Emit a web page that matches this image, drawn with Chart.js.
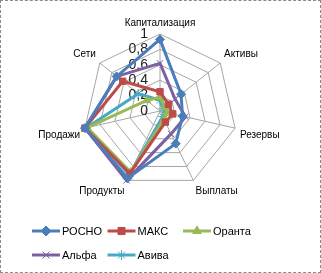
<!DOCTYPE html>
<html>
<head>
<meta charset="utf-8">
<script src="https://cdn.jsdelivr.net/npm/chart.js@4.4.1/dist/chart.umd.min.js"></script>
<style>
    body { margin: 0; background: #fff; }
    #wrap { width: 321px; height: 273px; box-sizing: border-box; border: 1px dashed #8a8a8a; }
</style>
</head>
<body>
<div id="wrap"><canvas id="radarChart" width="319" height="271"></canvas></div>
<script>
const categories = ['Капитализация', 'Активы', 'Резервы', 'Выплаты', 'Продукты', 'Продажи', 'Сети'];
const seriesNames = ['РОСНО', 'МАКС', 'Оранта', 'Альфа', 'Авива'];
const rosno = [0.93, 0.35, 0.30, 0.47, 0.97, 1.00, 0.72];
const maks = [0.25, 0.14, 0.17, 0.16, 0.90, 1.00, 0.62];
const oranta = [0.18, 0.08, 0.10, 0.12, 0.88, 0.97, 0.22];
const alfa = [0.62, 0.25, 0.34, 0.33, 1.00, 1.00, 0.72];
const aviva = [0.14, 0.05, 0.08, 0.08, 0.92, 0.98, 0.36];
const tickValues = [0, 0.2, 0.4, 0.6, 0.8, 1];
const tickLabels = ['0', '0,2', '0,4', '0,6', '0,8', '1'];

const colors = ['#4a7ebb', '#be4b48', '#98b954', '#7d60a0', '#46aac5'];
const markers = ['rectRot', 'rect', 'triangle', 'crossRot', 'star'];
const allValues = [rosno, maks, oranta, alfa, aviva];

const datasets = seriesNames.map((name, i) => ({
    label: name,
    data: allValues[i],
    borderColor: colors[i],
    backgroundColor: 'transparent',
    borderWidth: 3,
    fill: false,
    pointStyle: markers[i],
    pointRadius: 4.5,
    pointBackgroundColor: colors[i],
    pointBorderColor: colors[i],
    pointBorderWidth: 1
}));

// Excel style tick labels, left of the top axis
const tickPlugin = {
    id: 'tickLabels',
    beforeDatasetsDraw(chart) {
        const scale = chart.scales.r;
        const ctx = chart.ctx;
        ctx.save();
        ctx.font = '14px "Liberation Sans", Arial, sans-serif';
        ctx.fillStyle = '#222';
        ctx.textAlign = 'right';
        ctx.textBaseline = 'middle';
        tickValues.forEach((v, i) => {
            const d = scale.getDistanceFromCenterForValue(v);
            ctx.fillText(tickLabels[i], scale.xCenter - 12, scale.yCenter - d);
        });
        ctx.restore();
    }
};

// legend laid out on a grid like Excel
const legendPlugin = {
    id: 'gridLegend',
    afterDraw(chart) {
        const ctx = chart.ctx;
        ctx.save();
        ctx.font = '11px "Liberation Sans", Arial, sans-serif';
        ctx.textBaseline = 'middle';
        ctx.textAlign = 'left';
        chart.data.datasets.forEach((ds, i) => {
            const x = 31 + (i % 3) * 75.5;
            const y = 230 + Math.floor(i / 3) * 24;
            ctx.strokeStyle = ds.borderColor;
            ctx.lineWidth = 3;
            ctx.beginPath();
            ctx.moveTo(x, y);
            ctx.lineTo(x + 28, y);
            ctx.stroke();
            ctx.fillStyle = ds.borderColor;
            ctx.lineWidth = 1;
            Chart.helpers.drawPoint(ctx, { pointStyle: ds.pointStyle, radius: 5, rotation: 0, borderWidth: 1 }, x + 14, y);
            ctx.fillStyle = '#000';
            ctx.fillText(ds.label, x + 30, y + 1);
        });
        ctx.restore();
    }
};

new Chart(document.getElementById('radarChart'), {
    type: 'radar',
    data: { labels: categories, datasets: datasets },
    options: {
        responsive: false,
        animation: false,
        layout: { padding: { top: 12, bottom: 71, left: 12, right: 12 } },
        plugins: { legend: { display: false }, tooltip: { enabled: false } },
        elements: { line: { tension: 0 } },
        scales: {
            r: {
                min: 0,
                max: 1,
                ticks: { display: false, stepSize: 0.2 },
                grid: { color: '#a6a6a6', lineWidth: 1 },
                angleLines: { color: '#a6a6a6', lineWidth: 1 },
                pointLabels: {
                    color: '#000',
                    padding: 5,
                    font: { family: '"Liberation Sans", Arial, sans-serif', size: 10 }
                }
            }
        }
    },
    plugins: [tickPlugin, legendPlugin]
});
</script>
</body>
</html>
